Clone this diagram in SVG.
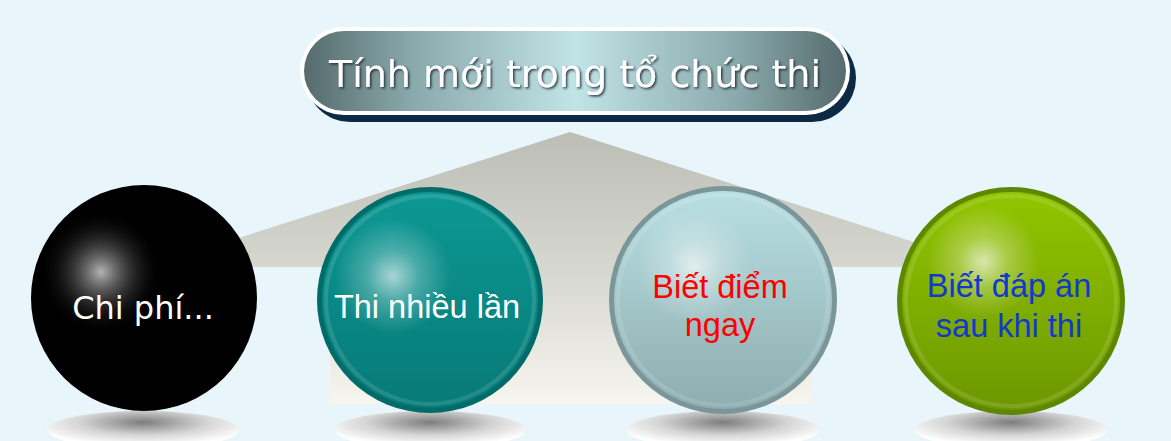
<svg xmlns="http://www.w3.org/2000/svg" width="1171" height="441" viewBox="0 0 1171 441">
  <defs>
    <style>
      .title { font-family: "DejaVu Sans", Verdana, sans-serif; font-size: 38px; fill: #ffffff; }
      .lbl { font-family: "Liberation Sans", Arial, sans-serif; font-size: 32.5px; text-anchor: middle; }
      .lbl-dv { font-family: "DejaVu Sans", Verdana, sans-serif; font-size: 32px; text-anchor: middle; }
      .ring { fill: none; stroke: #ffffff; stroke-opacity: 0.12; stroke-width: 4; }
    </style>
    <linearGradient id="pillFill" x1="0" y1="0" x2="1" y2="0">
      <stop offset="0" stop-color="#566b6d"/>
      <stop offset="0.2" stop-color="#8aa9ac"/>
      <stop offset="0.5" stop-color="#c1e4e7"/>
      <stop offset="0.8" stop-color="#8aa9ac"/>
      <stop offset="1" stop-color="#566b6d"/>
    </linearGradient>
    <linearGradient id="roofFill" x1="0" y1="0" x2="0" y2="1">
      <stop offset="0" stop-color="#bcbeb5"/>
      <stop offset="1" stop-color="#d6d7cf"/>
    </linearGradient>
    <linearGradient id="bodyFill" x1="0" y1="0" x2="0" y2="1">
      <stop offset="0" stop-color="#d5d6ce"/>
      <stop offset="1" stop-color="#f6f6ef"/>
    </linearGradient>
    <radialGradient id="floorShadow" cx="0.5" cy="0.3" r="0.6">
      <stop offset="0" stop-color="#7d7d7d"/>
      <stop offset="0.55" stop-color="#d4d4d4"/>
      <stop offset="1" stop-color="#ffffff"/>
    </radialGradient>
    <radialGradient id="glow" cx="0.5" cy="0.5" r="0.5">
      <stop offset="0" stop-color="#ffffff" stop-opacity="0.75"/>
      <stop offset="0.45" stop-color="#ffffff" stop-opacity="0.3"/>
      <stop offset="1" stop-color="#ffffff" stop-opacity="0"/>
    </radialGradient>
    <radialGradient id="glowDark" cx="0.5" cy="0.5" r="0.5">
      <stop offset="0" stop-color="#b4b4b4" stop-opacity="1"/>
      <stop offset="0.45" stop-color="#5a5a5a" stop-opacity="0.6"/>
      <stop offset="1" stop-color="#000000" stop-opacity="0"/>
    </radialGradient>
    <linearGradient id="tealFill" x1="0" y1="0" x2="0" y2="1">
      <stop offset="0" stop-color="#0c9894"/>
      <stop offset="1" stop-color="#077a77"/>
    </linearGradient>
    <linearGradient id="greyFill" x1="0" y1="0" x2="0" y2="1">
      <stop offset="0" stop-color="#b8dfe2"/>
      <stop offset="1" stop-color="#8eadb0"/>
    </linearGradient>
    <linearGradient id="greenFill" x1="0" y1="0" x2="0" y2="1">
      <stop offset="0" stop-color="#92c500"/>
      <stop offset="1" stop-color="#6d9700"/>
    </linearGradient>
    <filter id="txtShadow" x="-5%" y="-20%" width="110%" height="140%">
      <feDropShadow dx="1.5" dy="1.5" stdDeviation="1" flood-color="#1d2b30" flood-opacity="0.9"/>
    </filter>
  </defs>

  <rect width="1171" height="441" fill="#e8f5fa"/>

  <!-- house backdrop -->
  <g id="house">
    <polygon points="570,132 992,267 148,267" fill="url(#roofFill)"/>
    <rect x="330" y="267" width="482" height="137" fill="url(#bodyFill)"/>
  </g>

  <!-- title banner -->
  <g id="title">
    <rect x="306" y="34" width="550" height="88" rx="44" fill="#0d2a45"/>
    <rect x="300" y="27" width="550" height="88" rx="44" fill="#ffffff"/>
    <rect x="304" y="31" width="542" height="80" rx="40" fill="url(#pillFill)"/>
    <text class="title" x="575" y="87" text-anchor="middle" filter="url(#txtShadow)">Tính mới trong tổ chức thi</text>
  </g>

  <g id="connectors"></g>

  <!-- floor shadows -->
  <g id="shadows">
    <ellipse cx="143" cy="430" rx="96" ry="19" fill="url(#floorShadow)"/>
    <ellipse cx="430" cy="430" rx="96" ry="19" fill="url(#floorShadow)"/>
    <ellipse cx="723" cy="430" rx="96" ry="19" fill="url(#floorShadow)"/>
    <ellipse cx="1011" cy="430" rx="96" ry="19" fill="url(#floorShadow)"/>
  </g>

  <g id="node-chi-phi">
    <circle cx="144" cy="298" r="113" fill="#000000"/>
    <circle cx="101" cy="272" r="62" fill="url(#glowDark)"/>
    <text class="lbl-dv" x="143" y="319" fill="#ffffff">Chi phí...</text>
  </g>

  <g id="node-thi-nhieu-lan">
    <circle cx="430" cy="300" r="113" fill="#006c69"/>
    <circle cx="430" cy="300" r="108" fill="url(#tealFill)"/>
    <circle class="ring" cx="430" cy="300" r="104"/>
    <circle cx="393" cy="276" r="58" fill="url(#glow)" opacity="0.85"/>
    <text class="lbl" x="427" y="318" fill="#ffffff">Thi nhiều lần</text>
  </g>

  <g id="node-biet-diem">
    <circle cx="723" cy="300" r="114" fill="#7a9699"/>
    <circle cx="723" cy="300" r="109" fill="url(#greyFill)"/>
    <circle class="ring" cx="723" cy="300" r="105"/>
    <circle cx="694" cy="266" r="58" fill="url(#glow)" opacity="0.85"/>
    <text class="lbl" x="720" y="298" fill="#ff0000">Biết điểm</text>
    <text class="lbl" x="720" y="336" fill="#ff0000">ngay</text>
  </g>

  <g id="node-biet-dap-an">
    <circle cx="1011" cy="301" r="114" fill="#5e8700"/>
    <circle cx="1011" cy="301" r="109" fill="url(#greenFill)"/>
    <circle class="ring" cx="1011" cy="301" r="105"/>
    <circle cx="983" cy="262" r="56" fill="url(#glow)" opacity="0.9"/>
    <text class="lbl" x="1009" y="297" fill="#1238d0">Biết đáp án</text>
    <text class="lbl" x="1009" y="337" fill="#1238d0">sau khi thi</text>
  </g>
</svg>
